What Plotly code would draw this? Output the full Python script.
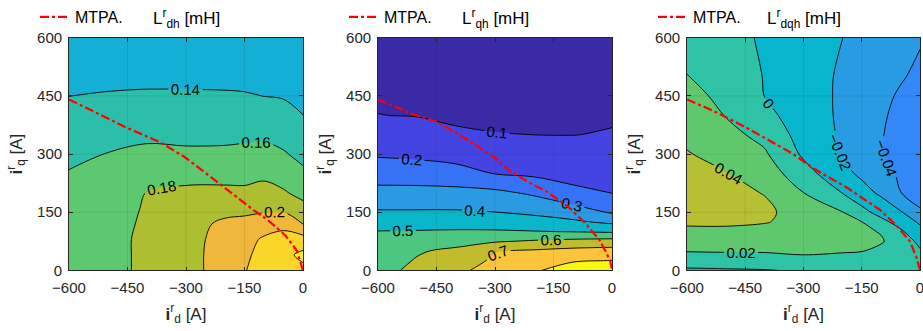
import plotly.graph_objects as go

# ---------------- data ----------------
# axes grids (A)
id_grid_dh = [-600, -500, -400, -300, -200, -150, -100, -50, 0]
iq_grid_dh = [0, 40, 80, 120, 160, 200, 250, 300, 350, 400, 450, 500, 600]
# L_dh columns (one list per i_d value, values along i_q), mH
L_dh_cols = [
    [0.172, 0.171, 0.170, 0.168, 0.166, 0.164, 0.161, 0.156, 0.151, 0.145, 0.1399, 0.135, 0.125],
    [0.174, 0.174, 0.174, 0.173, 0.171, 0.168, 0.165, 0.1605, 0.1545, 0.148, 0.1413, 0.1357, 0.125],
    [0.184, 0.184, 0.184, 0.183, 0.182, 0.1805, 0.1725, 0.1642, 0.1564, 0.1493, 0.1421, 0.1361, 0.125],
    [0.195, 0.195, 0.195, 0.194, 0.191, 0.184, 0.1735, 0.1633, 0.1554, 0.1487, 0.142, 0.1361, 0.125],
    [0.206, 0.206, 0.205, 0.203, 0.1948, 0.1844, 0.1735, 0.1636, 0.1556, 0.1486, 0.1417, 0.1359, 0.125],
    [0.219, 0.216, 0.212, 0.205, 0.1952, 0.1839, 0.1736, 0.1646, 0.1564, 0.1488, 0.1412, 0.1356, 0.125],
    [0.228, 0.227, 0.223, 0.209, 0.1964, 0.1867, 0.1757, 0.1659, 0.1566, 0.1481, 0.1398, 0.1349, 0.125],
    [0.232, 0.234, 0.228, 0.2138, 0.1956, 0.182, 0.1715, 0.1617, 0.1536, 0.1458, 0.1388, 0.1342, 0.125],
    [0.235, 0.245, 0.2275, 0.1995, 0.1855, 0.1745, 0.1635, 0.155, 0.1476, 0.1401, 0.1362, 0.1325, 0.125],
]

id_grid_qh = [-600, -500, -400, -300, -200, -100, 0]
iq_grid_qh = [0, 25, 50, 75, 100, 125, 150, 200, 250, 300, 350, 400, 500, 600]
L_qh_cols = [
    [0.58, 0.561, 0.542, 0.522, 0.503, 0.459, 0.41, 0.33, 0.254, 0.189, 0.146, 0.101, 0.08, 0.06],
    [0.615, 0.606, 0.592, 0.547, 0.506, 0.459, 0.41, 0.331, 0.249, 0.18, 0.133, 0.097, 0.079, 0.06],
    [0.68, 0.648, 0.617, 0.571, 0.51, 0.459, 0.41, 0.33, 0.233, 0.166, 0.105, 0.094, 0.074, 0.055],
    [0.735, 0.716, 0.695, 0.59, 0.51, 0.453, 0.401, 0.321, 0.197, 0.151, 0.1015, 0.091, 0.07, 0.05],
    [0.79, 0.751, 0.712, 0.611, 0.504, 0.438, 0.382, 0.285, 0.182, 0.14, 0.0998, 0.09, 0.07, 0.05],
    [0.84, 0.793, 0.73, 0.628, 0.497, 0.416, 0.35, 0.221, 0.17, 0.134, 0.099, 0.09, 0.07, 0.05],
    [0.86, 0.802, 0.737, 0.639, 0.487, 0.38, 0.29, 0.198, 0.166, 0.135, 0.104, 0.093, 0.076, 0.06],
]

id_grid_dqh = [-600, -500, -400, -300, -200, -150, -100, -50, 0]
iq_grid_dqh = [0, 25, 50, 75, 100, 125, 150, 200, 250, 300, 350, 400, 450, 500, 600]
L_dqh_cols = [
    [-0.003, 0.0093, 0.0209, 0.0287, 0.0366, 0.0425, 0.046, 0.05, 0.047, 0.0412, 0.0357, 0.0307, 0.0256, 0.0205, 0.012],
    [-0.002, 0.01, 0.0216, 0.0295, 0.0375, 0.042, 0.046, 0.0455, 0.0408, 0.0333, 0.0259, 0.0193, 0.0155, 0.0117, 0.004],
    [-0.001, 0.0115, 0.0216, 0.028, 0.0345, 0.041, 0.044, 0.0392, 0.0308, 0.0224, 0.0144, 0.0064, -0.0003, -0.0008, -0.0015],
    [0.002, 0.0156, 0.0229, 0.0273, 0.0316, 0.0345, 0.031, 0.0202, 0.0077, -0.003, -0.008, -0.012, -0.014, -0.015, -0.016],
    [0.004, 0.0135, 0.0215, 0.027, 0.0295, 0.026, 0.0205, -0.0003, -0.014, -0.0215, -0.0225, -0.0225, -0.022, -0.0215, -0.0198],
    [0.006, 0.013, 0.0205, 0.0245, 0.023, 0.0201, 0.0057, -0.0123, -0.024, -0.029, -0.031, -0.031, -0.0305, -0.0295, -0.027],
    [0.008, 0.0115, 0.016, 0.0215, 0.019, 0.0053, -0.0067, -0.0235, -0.0315, -0.0395, -0.039, -0.0375, -0.036, -0.0345, -0.032],
    [0.009, 0.011, 0.0125, 0.012, 0.003, -0.0074, -0.0183, -0.0398, -0.0435, -0.0455, -0.046, -0.045, -0.042, -0.0385, -0.035],
    [0.01, 0.0058, 0.0017, -0.005, -0.0133, -0.0231, -0.0388, -0.044, -0.047, -0.049, -0.05, -0.049, -0.0465, -0.0435, -0.0385],
]

# MTPA trajectories
mtpa_id_1 = [-600, -519, -452, -365, -303, -256, -179, -126, -93, -45, -16, -6, 0]
mtpa_iq_1 = [441, 402, 368, 330, 292, 256, 196, 155, 132, 90, 51, 15, 0]
mtpa_id_2 = [-600, -517, -450, -375, -300, -262, -200, -170, -110, -67, -31, -5, 0]
mtpa_iq_2 = [441, 405, 384, 340, 290, 256, 220, 205, 162, 120, 77, 26, 0]
mtpa_id_3 = [-600, -531, -447, -386, -326, -276, -189, -103, -60, -26, -9, 0]
mtpa_iq_3 = [441, 411, 368, 334, 300, 264, 214, 156, 115, 75, 34, 0]

# contour levels (start, end, step)
levels_dh = (0.14, 0.24, 0.02)
levels_qh = (0.1, 0.8, 0.1)
levels_dqh = (-0.04, 0.04, 0.02)

# band colours (parula-like, from lowest band to highest)
colors_dh = ["#14afd4", "#2bbfaa", "#5cc86f", "#adbe31", "#efb83b", "#f9d627", "#f6f218"]
colors_qh = ["#3b2aa6", "#4444e3", "#3672f5", "#2a9be2", "#0ab6ca", "#4cc681", "#c0bc2d", "#fcc43a", "#f7f710"]
colors_dqh = ["#3288f7", "#289ce2", "#07b5cd", "#2ec2a6", "#5fc86e", "#b5c033"]

x_ticks = [-600, -450, -300, -150, 0]
y_ticks = [0, 150, 300, 450, 600]

titles = ["L<sup>r</sup><sub>dh</sub> [mH]", "L<sup>r</sup><sub>qh</sub> [mH]", "L<sup>r</sup><sub>dqh</sub> [mH]"]

# ---------------- figure ----------------
FONT = "Liberation Sans, Arial, Helvetica, sans-serif"
W, H = 923, 331
x_domains = [[69 / W, 303 / W], [378 / W, 612 / W], [687 / W, 920 / W]]
y_domain = [1 - 270 / H, 1 - 36 / H]

panels = [
    (id_grid_dh, iq_grid_dh, L_dh_cols, levels_dh, colors_dh, mtpa_id_1, mtpa_iq_1),
    (id_grid_qh, iq_grid_qh, L_qh_cols, levels_qh, colors_qh, mtpa_id_2, mtpa_iq_2),
    (id_grid_dqh, iq_grid_dqh, L_dqh_cols, levels_dqh, colors_dqh, mtpa_id_3, mtpa_iq_3),
]

fig = go.Figure()
shapes = []
annotations = []
for k, (xg, yg, cols, lev, cols_c, md, mq) in enumerate(panels):
    ax = "" if k == 0 else str(k + 1)
    z = [list(r) for r in zip(*cols)]
    n = len(cols_c) - 1
    cscale = [[j / n, c] for j, c in enumerate(cols_c)]
    fig.add_trace(go.Contour(
        x=xg, y=yg, z=z, xaxis="x" + ax, yaxis="y" + ax,
        colorscale=cscale, showscale=False,
        contours=dict(start=lev[0], end=lev[1], size=lev[2], coloring="fill",
                      showlabels=True, labelfont=dict(size=15, color="black", family=FONT)),
        line=dict(color="black", width=0.9),
        hoverinfo="skip", showlegend=False,
    ))
    fig.add_trace(go.Scatter(
        x=md, y=mq, mode="lines", xaxis="x" + ax, yaxis="y" + ax,
        line=dict(color="#ff0000", width=2.2, dash="dashdot"),
        name="MTPA.", showlegend=True, legend="legend" + ax,
    ))
    axis_common = dict(showline=True, linecolor="#262626", linewidth=0.7, mirror="ticks",
                       ticks="inside", ticklen=4, tickcolor="#262626", tickwidth=0.7,
                       showgrid=False, zeroline=False, layer="above traces",
                       ticklabeloverflow="allow",
                       tickfont=dict(size=15, color="#262626", family=FONT))
    fig.update_layout(**{
        "xaxis" + ax: dict(domain=x_domains[k], range=[-600, 0], tickvals=x_ticks,
                           anchor="y" + ax, automargin=False, ticklabelstandoff=4,
                           title=dict(text="<b>i</b><sup>r</sup><sub>d</sub> [A]",
                                      font=dict(size=17, color="#262626", family=FONT), standoff=12),
                           **axis_common),
        "yaxis" + ax: dict(domain=y_domain, range=[0, 600], tickvals=y_ticks,
                           anchor="x" + ax, automargin=False, ticklabelstandoff=3,
                           title=dict(text="<b>i</b><sup>r</sup><sub>q</sub> [A]",
                                      font=dict(size=17, color="#262626", family=FONT), standoff=10),
                           **axis_common),
        "legend" + ax: dict(x=(x_domains[k][0] * W - 34) / W, y=1 - 15 / H, xanchor="left", yanchor="middle",
                            bgcolor="rgba(0,0,0,0)", borderwidth=0,
                            font=dict(size=16, color="#000000", family=FONT)),
    })
    # grid lines drawn above the filled contours (as MATLAB does)
    for xv in x_ticks[1:-1]:
        shapes.append(dict(type="line", xref="x" + ax, yref="y" + ax + " domain", x0=xv, x1=xv, y0=0, y1=1,
                           line=dict(color="rgba(38,38,38,0.18)", width=0.6), layer="above"))
    for yv in y_ticks[1:-1]:
        shapes.append(dict(type="line", xref="x" + ax + " domain", yref="y" + ax, x0=0, x1=1, y0=yv, y1=yv,
                           line=dict(color="rgba(38,38,38,0.18)", width=0.6), layer="above"))
    annotations.append(dict(text=titles[k], xref="paper", yref="paper",
                            x=(x_domains[k][0] + x_domains[k][1]) / 2, y=1 - 17 / H,
                            xanchor="center", yanchor="middle", showarrow=False,
                            font=dict(size=17, color="#000000", family=FONT)))

fig.update_layout(
    width=W, height=H, margin=dict(l=0, r=0, t=0, b=0),
    paper_bgcolor="white", plot_bgcolor="white",
    shapes=shapes, annotations=annotations,
    font=dict(family=FONT),
)
fig.write_html("out.html")
